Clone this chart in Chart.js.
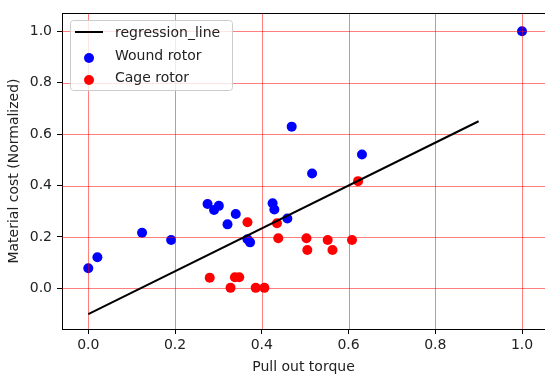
<!DOCTYPE html>
<html lang="en">
<head>
    <meta charset="UTF-8">
    <title>Material cost vs Pull out torque</title>
    <script src="https://cdn.jsdelivr.net/npm/chart.js"></script>
    <style>
        body { margin: 0; background: #fff; }
        #wrap { width: 545px; height: 376px; position: relative; }
    </style>
</head>
<body>
    <div id="wrap"><canvas id="scatterChart"></canvas></div>

    <script>
        // data
        const woundX = [0.000, 0.021, 0.124, 0.191, 0.275, 0.290, 0.301, 0.321, 0.340, 0.367, 0.373, 0.425, 0.429, 0.459, 0.469, 0.516, 0.631, 1.000];
        const woundY = [0.078, 0.121, 0.216, 0.188, 0.328, 0.305, 0.321, 0.249, 0.289, 0.191, 0.179, 0.331, 0.307, 0.272, 0.629, 0.447, 0.521, 1.000];

        const cageX = [0.280, 0.328, 0.338, 0.348, 0.367, 0.386, 0.406, 0.435, 0.438, 0.503, 0.505, 0.552, 0.563, 0.608, 0.622];
        const cageY = [0.041, 0.002, 0.043, 0.043, 0.257, 0.002, 0.002, 0.253, 0.195, 0.195, 0.149, 0.188, 0.149, 0.188, 0.417];

        const regX = [0.0, 0.9];
        const regY = [-0.1, 0.65];

        const xTicks = [0.0, 0.2, 0.4, 0.6, 0.8, 1.0];
        const yTicks = [0.0, 0.2, 0.4, 0.6, 0.8, 1.0];

        const toPts = (xs, ys) => xs.map((x, i) => ({ x: x, y: ys[i] }));
        const FONT = { family: "'DejaVu Sans', sans-serif", size: 14 };

        // grid drawn above the dots but below the regression line (like matplotlib)
        const gridPlugin = {
            id: 'redGrid',
            beforeDatasetDraw(chart, args) {
                if (args.index !== 0) return;
                const { ctx, chartArea: a, scales: { x, y } } = chart;
                ctx.save();
                ctx.strokeStyle = 'rgba(255,0,0,0.5)';
                ctx.lineWidth = 1;
                ctx.beginPath();
                xTicks.forEach(v => {
                    const px = Math.round(x.getPixelForValue(v)) + 0.5;
                    ctx.moveTo(px, a.top); ctx.lineTo(px, a.bottom);
                });
                yTicks.forEach(v => {
                    const py = Math.round(y.getPixelForValue(v)) + 0.5;
                    ctx.moveTo(a.left, py); ctx.lineTo(a.right, py);
                });
                ctx.stroke();
                ctx.restore();
            },
            afterDraw(chart) {
                const { ctx, chartArea: a } = chart;
                ctx.save();
                // top spine
                ctx.strokeStyle = '#000';
                ctx.lineWidth = 1;
                ctx.beginPath();
                ctx.moveTo(a.left, a.top + 0.5);
                ctx.lineTo(a.right, a.top + 0.5);
                ctx.stroke();

                // legend box inside the axes
                const lx = a.left + 8, ly = a.top + 7, lw = 162, lh = 70;
                ctx.fillStyle = 'rgba(255,255,255,0.8)';
                ctx.strokeStyle = '#cccccc';
                ctx.beginPath();
                ctx.roundRect(lx + 0.5, ly + 0.5, lw, lh, 3);
                ctx.fill();
                ctx.stroke();

                const ds = chart.data.datasets;
                const rows = [ly + 13, ly + 36, ly + 58];
                ctx.font = FONT.size + 'px ' + FONT.family;
                ctx.textBaseline = 'middle';
                // line handle
                ctx.strokeStyle = ds[0].borderColor;
                ctx.lineWidth = 2;
                ctx.beginPath();
                ctx.moveTo(lx + 5, rows[0] - 1);
                ctx.lineTo(lx + 33, rows[0] - 1);
                ctx.stroke();
                // dot handles
                [1, 2].forEach(i => {
                    ctx.fillStyle = ds[i].backgroundColor;
                    ctx.beginPath();
                    ctx.arc(lx + 19, rows[i] + 2, 5, 0, Math.PI * 2);
                    ctx.fill();
                });
                ctx.fillStyle = '#222';
                ds.forEach((d, i) => ctx.fillText(d.label, lx + 45, rows[i]));
                ctx.restore();
            }
        };

        new Chart(document.getElementById('scatterChart'), {
            type: 'scatter',
            data: {
                datasets: [{
                    label: 'regression_line',
                    data: toPts(regX, regY),
                    showLine: true,
                    borderColor: '#000',
                    borderWidth: 2,
                    pointRadius: 0,
                    fill: false
                }, {
                    label: 'Wound rotor',
                    data: toPts(woundX, woundY),
                    backgroundColor: '#0000ff',
                    borderWidth: 0,
                    pointRadius: 5
                }, {
                    label: 'Cage rotor',
                    data: toPts(cageX, cageY),
                    backgroundColor: '#ff0000',
                    borderWidth: 0,
                    pointRadius: 5
                }]
            },
            options: {
                responsive: true,
                maintainAspectRatio: false,
                animation: false,
                layout: { autoPadding: false, padding: { top: 13, right: 0, left: 0, bottom: 0 } },
                plugins: { legend: { display: false }, tooltip: { enabled: false } },
                scales: {
                    x: {
                        type: 'linear',
                        min: -0.0606,
                        max: 1.053,
                        afterFit: s => { s.height = 47; s.paddingLeft = 0; s.paddingRight = 0; },
                        afterBuildTicks: s => { s.ticks = xTicks.map(v => ({ value: v })); },
                        grid: { drawOnChartArea: false, drawTicks: true, tickLength: 5, tickColor: '#000' },
                        border: { display: true, color: '#000', width: 1 },
                        ticks: { font: FONT, color: '#222', padding: 3, maxRotation: 0, callback: v => v.toFixed(1) },
                        title: { display: true, text: 'Pull out torque', font: FONT, color: '#222', padding: { top: 0, bottom: 0 } }
                    },
                    y: {
                        type: 'linear',
                        min: -0.158,
                        max: 1.071,
                        afterFit: s => { s.width = 62; s.paddingTop = 0; s.paddingBottom = 0; },
                        afterBuildTicks: s => { s.ticks = yTicks.map(v => ({ value: v })); },
                        grid: { drawOnChartArea: false, drawTicks: true, tickLength: 5, tickColor: '#000' },
                        border: { display: true, color: '#000', width: 1 },
                        ticks: { font: FONT, color: '#222', padding: 5, callback: v => v.toFixed(1) },
                        title: { display: true, text: 'Material cost (Normalized)', font: FONT, color: '#222', padding: { top: 6, bottom: 0 } }
                    }
                }
            },
            plugins: [gridPlugin]
        });
    </script>
</body>
</html>
